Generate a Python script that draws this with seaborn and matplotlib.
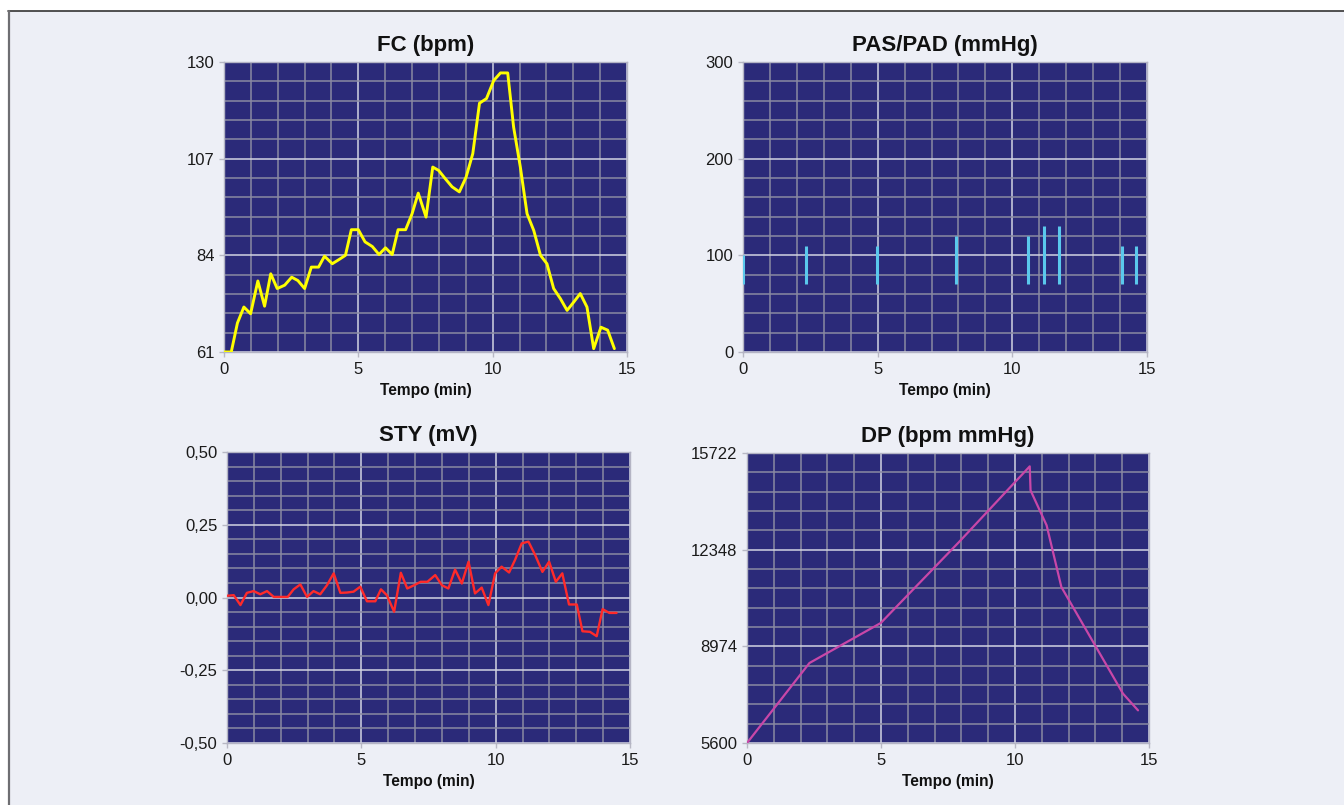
import matplotlib
matplotlib.use("Agg")
import matplotlib.pyplot as plt
from matplotlib.ticker import FixedLocator, AutoMinorLocator, FuncFormatter
from matplotlib.lines import Line2D
from matplotlib.patches import Rectangle
import seaborn as sns
import pandas as pd

# ---------------- data ----------------
fc_t = [0.0, 0.27, 0.5, 0.74, 0.99, 1.26, 1.51, 1.74, 1.98, 2.26, 2.52, 2.75, 3.0, 3.25,
        3.52, 3.74, 4.03, 4.28, 4.52, 4.74, 5.0, 5.25, 5.52, 5.77, 6.01, 6.26, 6.48, 6.76,
        7.0, 7.23, 7.52, 7.77, 7.99, 8.24, 8.49, 8.76, 9.01, 9.26, 9.51, 9.77, 10.04,
        10.29, 10.56, 10.78, 11.03, 11.28, 11.53, 11.78, 12.02, 12.27, 12.52, 12.77,
        13.02, 13.26, 13.51, 13.76, 14.03, 14.28, 14.53]
fc_v = [61, 61, 67.9, 71.7, 70.1, 77.9, 71.9, 79.6, 76.1, 76.9, 78.8, 78.0, 76.1, 81.2,
        81.2, 83.8, 82.0, 83.0, 84.0, 90.1, 90.1, 87.2, 86.1, 84.2, 85.8, 84.2, 90.1, 90.1,
        93.9, 98.8, 93.1, 105.0, 104.2, 102.2, 100.3, 99.1, 102.6, 108.2, 120.2, 121.3,
        125.6, 127.4, 127.4, 114.5, 105.0, 93.9, 89.9, 84.0, 82.0, 76.1, 73.7, 70.9,
        72.9, 74.9, 71.7, 61.8, 66.9, 66.2, 61.8]

pa_t = [0.0, 2.33, 4.98, 7.9, 10.6, 11.16, 11.74, 14.09, 14.6]
pas_v = [100, 110, 110, 120, 120, 130, 130, 110, 110]
pad_v = [70, 70, 70, 70, 70, 70, 70, 70, 70]

st_t = [0.0, 0.25, 0.5, 0.74, 0.99, 1.24, 1.49, 1.74, 1.98, 2.26, 2.48, 2.73, 2.98, 3.22,
        3.47, 3.72, 3.97, 4.22, 4.46, 4.71, 4.96, 5.21, 5.52, 5.73, 5.95, 6.22, 6.47, 6.71,
        6.96, 7.21, 7.46, 7.75, 8.0, 8.24, 8.49, 8.74, 8.99, 9.23, 9.48, 9.73, 9.98, 10.22,
        10.5, 10.72, 10.97, 11.22, 11.47, 11.74, 11.99, 12.24, 12.48, 12.73, 13.02, 13.23,
        13.51, 13.76, 13.98, 14.23, 14.5]
st_v = [0.006, 0.008, -0.026, 0.016, 0.022, 0.011, 0.022, 0.002, 0.002, 0.002, 0.028, 0.045,
        0.002, 0.022, 0.011, 0.042, 0.083, 0.016, 0.017, 0.020, 0.037, -0.013, -0.013, 0.028,
        0.008, -0.049, 0.085, 0.031, 0.042, 0.054, 0.054, 0.077, 0.042, 0.031, 0.096, 0.048,
        0.123, 0.014, 0.034, -0.026, 0.083, 0.106, 0.086, 0.129, 0.186, 0.192, 0.146, 0.088,
        0.123, 0.054, 0.083, -0.024, -0.024, -0.116, -0.118, -0.133, -0.040, -0.053, -0.053]

dp_t = [0.0, 2.33, 4.99, 7.9, 10.55, 10.58, 11.18, 11.73, 14.03, 14.59]
dp_v = [5600, 8392, 9788, 12604, 15256, 14418, 13197, 11045, 7322, 6740]

x_ticks = [0, 5, 10, 15]
fc_ticks = [61, 84, 107, 130]
pa_ticks = [0, 100, 200, 300]
st_ticks = [-0.50, -0.25, 0.0, 0.25, 0.50]
dp_ticks = [5600, 8974, 12348, 15722]

titles = ["FC (bpm)", "PAS/PAD (mmHg)", "STY (mV)", "DP (bpm mmHg)"]
xlabel = "Tempo (min)"

# ---------------- style ----------------
sns.set_style("white")
plt.rcParams["font.family"] = ["Liberation Sans", "DejaVu Sans"]

FACE = "#2b2a79"
MINOR = "#8a8aa2"
MAJOR = "#d2d3e2"

W, H = 1344, 805
fig = plt.figure(figsize=(W / 100, H / 100), dpi=100, facecolor="white")

# panel background with border
fig.patches.append(Rectangle((8 / W, 0), 1 - 8 / W, 1 - 11 / H, transform=fig.transFigure,
                             facecolor="#edeff6", edgecolor="none", zorder=-10))
fig.lines.append(Line2D([8 / W, 1], [1 - 11 / H, 1 - 11 / H], transform=fig.transFigure,
                        color="#333333", lw=1.2))
fig.lines.append(Line2D([9 / W, 9 / W], [0, 1 - 11 / H], transform=fig.transFigure,
                        color="#6e6e72", lw=1.6))


def box(l, t, r, b):
    return [l / W, 1 - b / H, (r - l) / W, (b - t) / H]


ax_fc = fig.add_axes(box(224, 62, 627, 352))
ax_pa = fig.add_axes(box(743, 62, 1147, 352))
ax_st = fig.add_axes(box(227, 452, 630, 743))
ax_dp = fig.add_axes(box(747, 453, 1149, 743))


def style(ax, title, yticks, fmt=None):
    ax.set_facecolor(FACE)
    ax.set_xlim(0, 15)
    ax.set_ylim(yticks[0], yticks[-1])
    ax.xaxis.set_major_locator(FixedLocator(x_ticks))
    ax.xaxis.set_minor_locator(AutoMinorLocator(5))
    ax.yaxis.set_major_locator(FixedLocator(yticks))
    ax.yaxis.set_minor_locator(AutoMinorLocator(5))
    if fmt is not None:
        ax.yaxis.set_major_formatter(FuncFormatter(fmt))
    else:
        ax.yaxis.set_major_formatter(FuncFormatter(lambda v, p: f"{v:.0f}"))
    ax.grid(True, which="minor", color=MINOR, lw=1.1, zorder=0)
    ax.grid(True, which="major", color=MAJOR, lw=1.1, zorder=0)
    ax.set_axisbelow(True)
    ax.tick_params(which="major", direction="out", length=3.5, width=1, color="#b8b8c4",
                   labelsize=12, pad=3.5, labelcolor="#1a1a1a", left=True, bottom=True)
    ax.tick_params(which="minor", length=0)
    for s in ax.spines.values():
        s.set_color("#b4b4c4")
        s.set_linewidth(1)
    ax.set_title(title, fontsize=16, fontweight="bold", pad=8, color="#111111")
    ax.set_xlabel(xlabel, fontsize=11.2, fontweight="bold", labelpad=4.5, color="#111111")
    ax.set_ylabel("")


df_fc = pd.DataFrame({"t": fc_t, "v": fc_v})
sns.lineplot(data=df_fc, x="t", y="v", ax=ax_fc, color="#ffff00", lw=2.1, zorder=3)
style(ax_fc, titles[0], fc_ticks)

ax_pa.vlines(pa_t, pad_v, pas_v, colors="#5ac8ec", lw=2.2, zorder=3)
style(ax_pa, titles[1], pa_ticks)

df_st = pd.DataFrame({"t": st_t, "v": st_v})
sns.lineplot(data=df_st, x="t", y="v", ax=ax_st, color="#ff2a2a", lw=1.7, zorder=3)
style(ax_st, titles[2], st_ticks, fmt=lambda v, p: f"{v:.2f}".replace(".", ","))

df_dp = pd.DataFrame({"t": dp_t, "v": dp_v})
sns.lineplot(data=df_dp, x="t", y="v", ax=ax_dp, color="#c847a8", lw=1.6, zorder=3)
style(ax_dp, titles[3], dp_ticks)

fig.savefig("out.png", dpi=100, facecolor=fig.get_facecolor())
